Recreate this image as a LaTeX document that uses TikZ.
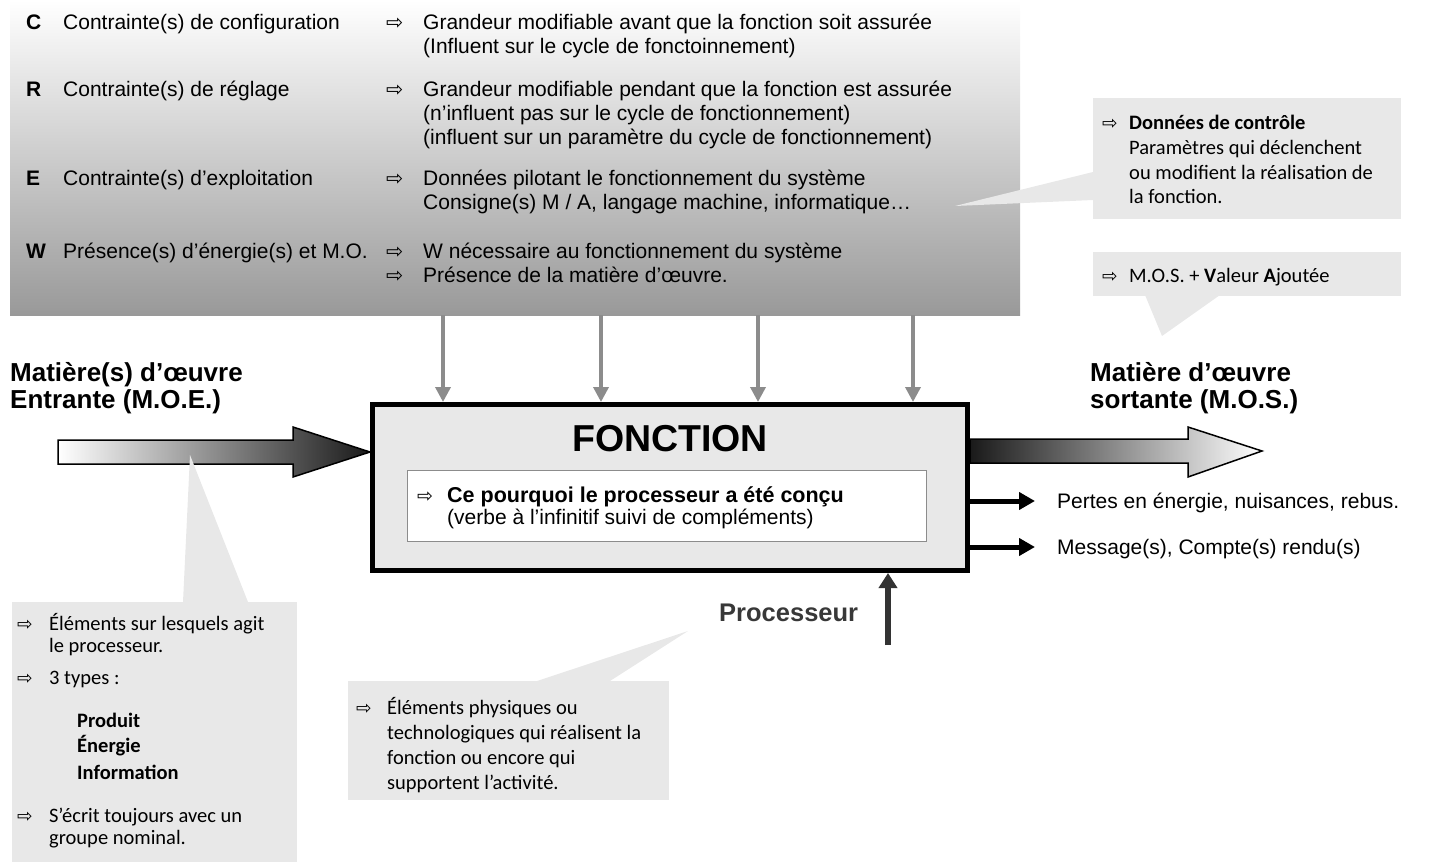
\documentclass[tikz,border=0pt]{standalone}
\usepackage{fontspec}
\setmainfont{Liberation Sans}
\newfontfamily\calfont{Carlito}
\newfontfamily\dvfont{DejaVu Sans}
\usetikzlibrary{arrows.meta,calc}
\tikzset{
  tx/.style={anchor=base west, inner sep=0pt, font=\fontsize{21}{24}\selectfont},
  bx/.style={anchor=base west, inner sep=0pt, font=\fontsize{21}{24}\selectfont\bfseries},
  big/.style={anchor=base west, inner sep=0pt, font=\fontsize{26}{28}\selectfont\bfseries},
  ct/.style={anchor=base west, inner sep=0pt, font=\calfont\fontsize{20.5}{24}\selectfont},
  cb/.style={anchor=base west, inner sep=0pt, font=\calfont\fontsize{20.5}{24}\selectfont\bfseries},
  arw/.style={anchor=base west, inner sep=0pt, font=\dvfont\fontsize{20.5}{20}\selectfont},
  carw/.style={anchor=base west, inner sep=0pt, font=\dvfont\fontsize{18.5}{20}\selectfont},
  callout/.style={fill=black!9, draw=none, inner sep=0pt, anchor=north west},
  wedge/.style={fill=black!9, draw=none},
  garr/.style={draw=black!45, line width=3.5pt, -{Triangle[length=15pt,width=15pt]}},
  barr/.style={draw=black, line width=5pt, -{Triangle[length=16pt,width=17pt]}},
  parr/.style={draw=black!80, line width=6pt, -{Triangle[length=15pt,width=18pt]}},
  blockarr/.style={draw=black, line width=1.5pt, line join=miter},
}
\begin{document}
\begin{tikzpicture}[x=1pt, y=-1pt]
\useasboundingbox (0,0) rectangle (1432,864);

% ---- top gradient box
\node[anchor=north west, inner sep=0pt, minimum width=1010pt, minimum height=315pt,
      top color=white, bottom color=black!40, draw=none] (ctrl) at (10,0) {};

% ---- control data callout
\node[callout, minimum width=308pt, minimum height=121pt] (dc) at (1093,98) {};
\fill[wedge] (955,206) -- (dc.west |- 0,172) -- (dc.west |- 0,200) -- cycle;

% ---- MOS callout
\node[callout, minimum width=308pt, minimum height=44pt] (va) at (1093,252) {};
\fill[wedge] (1145,295) -- (1220,295) -- (1162,336) -- cycle;

% ---- main function box
\node[draw=black, line width=5pt, fill=black!9, minimum width=595pt, minimum height=166pt,
      inner sep=0pt] (fn) at (670,487.5) {};
\node[draw=black!45, line width=1.5pt, fill=white, minimum width=519pt, minimum height=71pt,
      inner sep=0pt] (why) at (667,506) {};

% ---- text in top box
\node[bx] (cC) at (26,30) {C};
\node[tx] (cC1) at (63,30) {Contrainte(s) de configuration};
\node[arw] (cCa) at (386,30) {⇨};
\node[tx] (cC2) at (423,30) {Grandeur modifiable avant que la fonction soit assurée};
\node[tx] (cC3) at (423,54) {(Influent sur le cycle de fonctoinnement)};

\node[bx] (cR) at (26,97) {R};
\node[tx] (cR1) at (63,97) {Contrainte(s) de réglage};
\node[arw] (cRa) at (386,97) {⇨};
\node[tx] (cR2) at (423,97) {Grandeur modifiable pendant que la fonction est assurée};
\node[tx] (cR3) at (423,121) {(n’influent pas sur le cycle de fonctionnement)};
\node[tx] (cR4) at (423,145) {(influent sur un paramètre du cycle de fonctionnement)};

\node[bx] (cE) at (26,185) {E};
\node[tx] (cE1) at (63,185) {Contrainte(s) d’exploitation};
\node[arw] (cEa) at (386,185) {⇨};
\node[tx] (cE2) at (423,185) {Données pilotant le fonctionnement du système};
\node[tx] (cE3) at (423,209) {Consigne(s) M / A, langage machine, informatique…};

\node[bx] (cW) at (26,258) {W};
\node[tx] (cW1) at (63,258) {Présence(s) d’énergie(s) et M.O.};
\node[arw] (cWa) at (386,258) {⇨};
\node[tx] (cW2) at (423,258) {W nécessaire au fonctionnement du système};
\node[arw] (cWb) at (386,282) {⇨};
\node[tx] (cW3) at (423,282) {Présence de la matière d’œuvre.};

% ---- callout texts (right)
\node[carw] (dca) at (1102,130) {⇨};
\node[cb] (dc1) at (1129,130) {Données de contrôle};
\node[ct] (dc2) at (1129,154.5) {Paramètres qui déclenchent};
\node[ct] (dc3) at (1129,179) {ou modifient la réalisation de};
\node[ct] (dc4) at (1129,203.5) {la fonction.};
\node[carw] (vaa) at (1102,282) {⇨};
\node[ct] (va1) at (1129,282) {M.O.S. + \textbf{V}aleur \textbf{A}joutée};

% ---- grey control arrows
\foreach \gx in {443,601,758,913}
  \draw[garr] (ctrl.south -| \gx,0) -- (fn.north -| \gx,0);

% ---- MOE block arrow
\coordinate (moeT) at (58,452);
\path[blockarr, left color=white, middle color=black!30, right color=black!90]
  (58,440) -- (293,440) -- (293,427) -- (fn.west |- moeT) -- (293,477) -- (293,464) -- (58,464) -- cycle;

% ---- MOS block arrow
\coordinate (mosT) at (1262,451);
\path[blockarr, left color=black!90, middle color=black!35, right color=white]
  (fn.east |- 0,439) -- (1188,439) -- (1188,427) -- (mosT) -- (1188,477) -- (1188,463) -- (fn.east |- 0,463) -- cycle;

% ---- labels
\node[big] (moe1) at (10,381) {Matière(s) d’œuvre};
\node[big] (moe2) at (10,408) {Entrante (M.O.E.)};
\node[big] (mos1) at (1090,381) {Matière d’œuvre};
\node[big] (mos2) at (1090,408) {sortante (M.O.S.)};

\node[anchor=base, inner sep=0pt, font=\fontsize{37.5}{40}\selectfont\bfseries] (fname) at (670,451) {FONCTION};
\node[anchor=base west, inner sep=0pt, font=\dvfont\fontsize{19}{20}\selectfont] (whya) at (417,502) {⇨};
\node[anchor=base west, inner sep=0pt, font=\fontsize{21.5}{24}\selectfont\bfseries] (why1) at (447,502) {Ce pourquoi le processeur a été conçu};
\node[tx] (why2) at (447,524) {(verbe à l’infinitif suivi de compléments)};

% ---- outputs
\coordinate (o1) at (1035,501);
\coordinate (o2) at (1035,547);
\draw[barr] (fn.east |- o1) -- (o1);
\draw[barr] (fn.east |- o2) -- (o2);
\node[tx] (o1t) at (1057,508.5) {Pertes en énergie, nuisances, rebus.};
\node[tx] (o2t) at (1057,554.5) {Message(s), Compte(s) rendu(s)};

% ---- processor
\coordinate (procB) at (888,645);
\draw[parr] (procB) -- (procB |- fn.south);
\node[anchor=base west, inner sep=0pt, font=\fontsize{25.5}{28}\selectfont\bfseries, text=black!78] (proc) at (719,621) {Processeur};

% ---- MOE callout
\node[callout, minimum width=285pt, minimum height=260pt] (mc) at (12,602) {};
\fill[wedge] (183,602) -- (190,455) -- (248,602) -- cycle;
\node[carw] (mca) at (17,630) {⇨};
\node[ct] (mc1) at (49,630) {Éléments sur lesquels agit};
\node[ct] (mc2) at (49,652) {le processeur.};
\node[carw] (mcb) at (17,684) {⇨};
\node[ct] (mc3) at (49,684) {3 types :};
\node[cb] (mc4) at (77,727) {Produit};
\node[cb] (mc5) at (77,752) {Énergie};
\node[cb] (mc6) at (77,779) {Information};
\node[carw] (mcc) at (17,822) {⇨};
\node[ct] (mc7) at (49,822) {S’écrit toujours avec un};
\node[ct] (mc8) at (49,844) {groupe nominal.};

% ---- processor callout
\node[callout, minimum width=321pt, minimum height=119pt] (pc) at (348,681) {};
\fill[wedge] (537,681) -- (688,631) -- (610,681) -- cycle;
\node[carw] (pca) at (356,714) {⇨};
\node[ct] (pc1) at (387,714) {Éléments physiques ou};
\node[ct] (pc2) at (387,739) {technologiques qui réalisent la};
\node[ct] (pc3) at (387,764) {fonction ou encore qui};
\node[ct] (pc4) at (387,789) {supportent l’activité.};
\end{tikzpicture}
\end{document}
